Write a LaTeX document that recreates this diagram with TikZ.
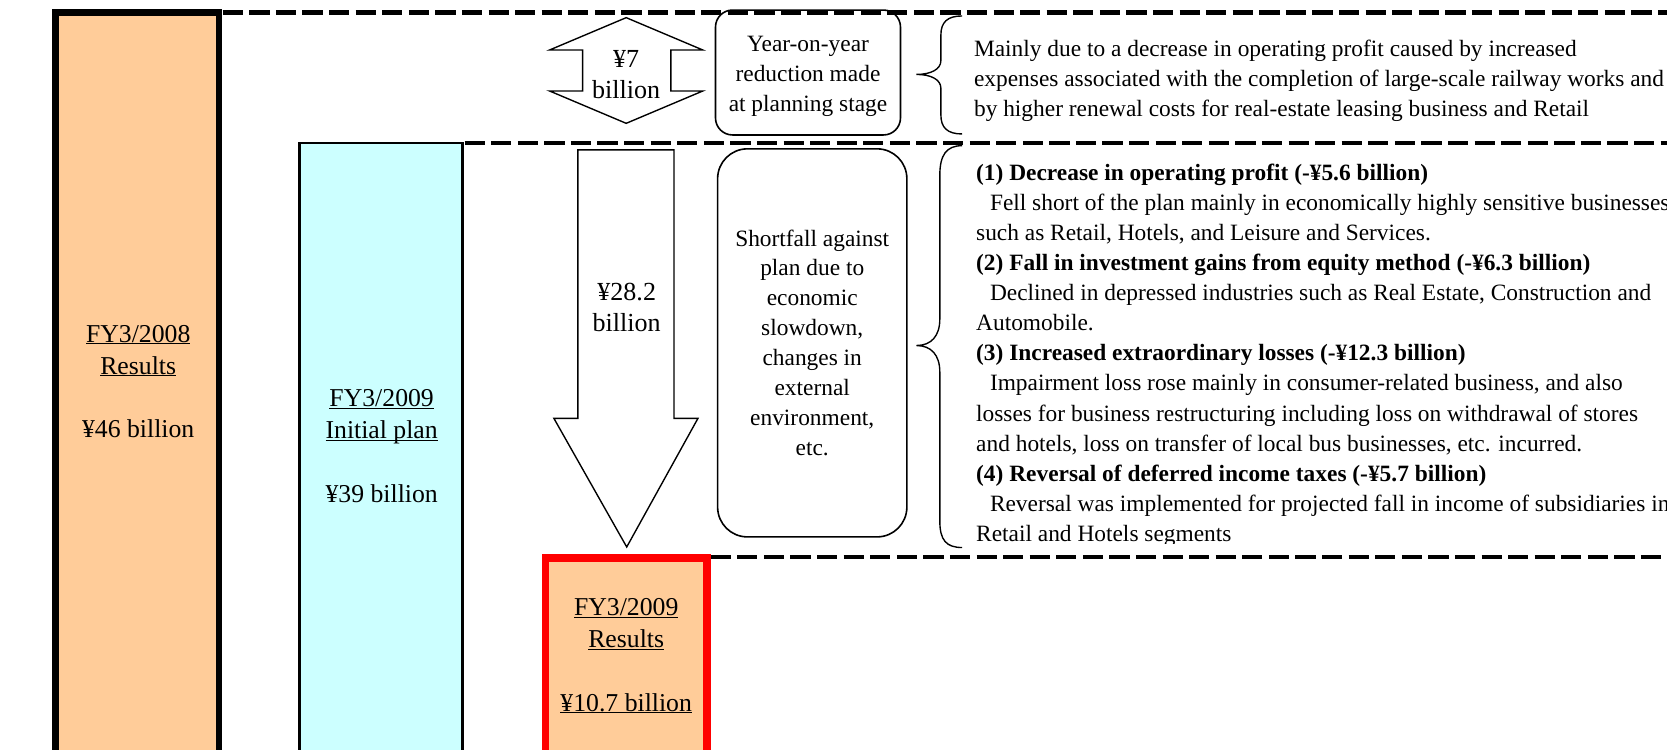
\documentclass[tikz,border=0pt]{standalone}
\usepackage{fontspec}
\setmainfont{Liberation Serif}
\definecolor{peach}{HTML}{FFCC99}
\definecolor{lcyan}{HTML}{CCFFFF}
\newcommand\ulfix[1]{\underline{\smash{#1}\vphantom{X}}}
\begin{document}
\begin{tikzpicture}[x=1pt,y=-1pt,
  dashline/.style={line width=4.3pt, dash pattern=on 19pt off 6pt},
  bar/.style={anchor=north west, inner sep=0pt, outer sep=0pt},
  lbl/.style={align=center, font=\fontsize{24.2}{30}\selectfont, inner sep=0pt},
  arrtxt/.style={align=center, font=\fontsize{24.5}{29}\selectfont, inner sep=0pt},
  txtline/.style={anchor=base west, inner sep=0pt, font=\fontsize{22}{28}\selectfont},
  rbox/.style={draw, line width=1.5pt, align=center, font=\fontsize{22}{28.2}\selectfont, inner sep=0pt},
  arrshape/.style={draw, line width=1.3pt, fill=white, line join=miter},
  brace/.style={draw, line width=1.3pt}]

\useasboundingbox (0,0) rectangle (1568,705);
\clip (0,0) rectangle (1568,705);

% bars
\node[bar, draw, line width=6.5pt, fill=peach, minimum width=153.5pt, minimum height=720pt] (bar08) at (52.5,12) {};
\node[bar, draw, line width=2.5pt, fill=lcyan, minimum width=153pt, minimum height=600pt] (plan) at (282,134.5) {};
\node[bar, draw=red, line width=7pt, fill=peach, minimum width=152pt, minimum height=300pt] (res09) at (513,525) {};

% labels
\node[lbl] (l08) at (130,359) {\ulfix{FY3/2008}\\\ulfix{Results}\\\mbox{}\\¥46 billion};
\node[lbl] (lplan) at (359,420) {\ulfix{FY3/2009}\\\ulfix{Initial plan}\\\mbox{}\\¥39 billion};
\node[lbl] (l09) at (589,617) {\ulfix{FY3/2009}\\\ulfix{Results}\\\mbox{}\\\ulfix{¥10.7 billion}};

% dashed separators
\coordinate (e1) at (1568,12);
\coordinate (e2) at (1568,134.5);
\coordinate (e3) at (1568,524);
\coordinate (s1) at (209.5,12);
\coordinate (s2) at (437,134.5);
\coordinate (s3) at (668.5,524);
\draw[dashline] (s1) -- (e1);
\draw[dashline] (s2) -- (e2);
\draw[dashline] (s3) -- (e3);

% double arrow
\draw[arrshape] (589,16.6) -- (661,47) -- (631,47) -- (631,85.6) -- (661,85.6) -- (589,116)
  -- (517,85.6) -- (548,85.6) -- (548,47) -- (517,47) -- cycle;
\node[arrtxt] (d7) at (589,70) {¥7\\billion};

% down arrow
\draw[arrshape] (543.5,141) -- (634,141) -- (634,393.5) -- (656.5,393.5) -- (589.5,514.5)
  -- (521,393.5) -- (543.5,393.5) -- cycle;
\node[arrtxt] (d28) at (589.5,289) {¥28.2\\billion};

% rounded boxes
\node[rbox, rounded corners=16pt, minimum width=174pt, minimum height=117.5pt] (yoy) at (760,68.2)
  {\rule{0pt}{22pt}Year-on-year\\reduction made\\at planning stage};
\node[rbox, rounded corners=28pt, minimum width=178pt, minimum height=365pt] (short) at (764,322.5)
  {Shortfall against\\plan due to\\economic\\slowdown,\\changes in\\external\\environment,\\etc.};

% braces
\draw[brace] (905,15) .. controls (891,15) and (885,21) .. (885,33) -- (885,57)
  .. controls (885,65) and (876,70) .. (862,70)
  .. controls (876,70) and (885,75) .. (885,83) -- (885,108)
  .. controls (885,120) and (891,126) .. (905,126);
\draw[brace] (905,137) .. controls (890,137) and (884,146) .. (884,165) -- (884,300)
  .. controls (884,316) and (876,325) .. (862,325)
  .. controls (876,325) and (884,334) .. (884,350) -- (884,490)
  .. controls (884,508) and (890,515) .. (905,515);

% text block 1
\foreach \yy/\txt [count=\i] in {
  53/{Mainly due to a decrease in operating profit caused by increased},
  81.5/{expenses associated with the completion of large-scale railway works and},
  110/{by higher renewal costs for real-estate leasing business and Retail}}
  \node[txtline] (a\i) at (916,\yy) {\txt};

% text block 2
\begin{scope}
\clip (908,136) rectangle (1568,511);
\foreach \yy/\txt [count=\i] in {
  170/{\bfseries (1) Decrease in operating profit (-¥5.6 billion)},
  198.25/{\hspace*{13pt}Fell short of the plan mainly in economically highly sensitive businesses},
  226.5/{such as Retail, Hotels, and Leisure and Services.},
  254.75/{\bfseries (2) Fall in investment gains from equity method (-¥6.3 billion)},
  283/{\hspace*{13pt}Declined in depressed industries such as Real Estate, Construction and},
  311.25/{Automobile.},
  339.5/{\bfseries (3) Increased extraordinary losses (-¥12.3 billion)},
  367.75/{\hspace*{13pt}Impairment loss rose mainly in consumer-related business, and also},
  396/{losses for business restructuring including loss on withdrawal of stores},
  424.25/{and hotels, loss on transfer of local bus businesses, etc. incurred.},
  452.5/{\bfseries (4) Reversal of deferred income taxes (-¥5.7 billion)},
  480.75/{\hspace*{13pt}Reversal was implemented for projected fall in income of subsidiaries in},
  509/{Retail and Hotels segments}}
  \node[txtline] (b\i) at (918,\yy) {\txt};
\end{scope}
\end{tikzpicture}
\end{document}
